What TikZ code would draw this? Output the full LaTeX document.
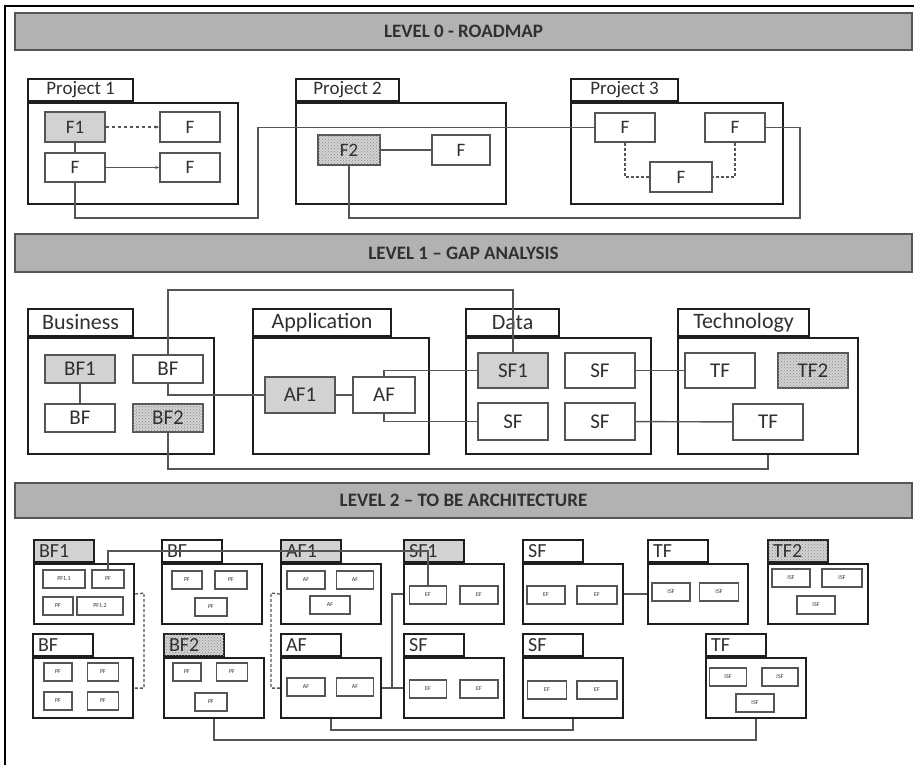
\documentclass[tikz,border=0pt]{standalone}
\usepackage{fontspec}
\setmainfont{Carlito}
\usetikzlibrary{arrows.meta, patterns}

\begin{document}
\begin{tikzpicture}[
    x=1pt, y=-1pt,
]

% ---------------------------------------------------------------- colours
\definecolor{c1}{HTML}{1E1E1E}   % package outlines
\definecolor{c2}{HTML}{555555}   % function boxes and links
\definecolor{c3}{HTML}{D2D2D2}   % first function of a block
\definecolor{c4}{HTML}{B2B2B2}   % the level bars
\definecolor{textcolor}{HTML}{303030}

\tikzset{
    bar/.style={rectangle, draw=c2, line width=2pt, fill=c4,
                minimum width=897pt, minimum height=36pt, inner sep=0pt,
                font=\fontsize{19}{19}\selectfont\bfseries, text=textcolor},
    body/.style={rectangle, draw=c1, line width=2.2pt, fill=white,
                 inner sep=0pt, anchor=north west},
    tab/.style={rectangle, draw=c1, line width=2.2pt, fill=white,
                inner sep=0pt, anchor=south west, text=textcolor},
    fbox/.style={rectangle, draw=c2, line width=1.5pt, fill=white,
                 inner sep=0pt, text=textcolor},
    mbox/.style={rectangle, draw=c2, line width=1.1pt, fill=white,
                 minimum height=18pt, inner sep=0pt, text=textcolor,
                 font=\fontsize{6}{6}\selectfont},
    blankfn/.style={},
    firstfn/.style={fill=c3},
    gapfn/.style={fill=c3, postaction={pattern=crosshatch dots,
                  pattern color=black!45}},
    link/.style={draw=c2, line width=1.4pt},
    dlink/.style={draw=c2, line width=1.3pt, dash pattern=on 3pt off 2pt},
}

% ================================================================
% GEOMETRY (1 unit = 1 px of the page, y grows downwards)
%   level bars       y = 31.5, 253, 500.5
%   level 0 blocks   tab top 80, body 102 .. 203
%   level 1 blocks   tab top 310, body 337 .. 453
%   level 2 blocks   tab top 541 / 635, body 60 high
% ================================================================

\useasboundingbox (0,0) rectangle (914,765);
\draw[black, line width=2.5pt] (5,765) -- (5,6) -- (914,6);

% ---------------------------------------------------------------- level bars
\foreach \n/\y/\h/\t in {%
    lev0/31.5/37/LEVEL 0 - ROADMAP,
    lev1/253/37/LEVEL 1 – GAP ANALYSIS,
    lev2/500.5/35/LEVEL 2 – TO BE ARCHITECTURE%
} {
    \node[bar, minimum height=\h pt] (\n) at (463.5, \y) {\t};
}

% ---------------------------------------------------------------- level 0
% name / left / width / tab width / label
\foreach \n/\x/\w/\tw/\t in {%
    p1/27/210/105/Project 1,
    p2/295/210/103/Project 2,
    p3/570/212/107/Project 3%
} {
    \node[body, minimum width=\w pt, minimum height=101pt] (\n) at (\x, 102) {};
    \node[tab, minimum width=\tw pt, minimum height=22pt,
          font=\fontsize{19}{19}\selectfont] (\n-tab) at (\n.north west) {\t};
}

% name / x / y / width / height / look / label
\foreach \n/\x/\y/\w/\h/\s/\t in {%
    f11/75/127/60/30/firstfn/F1,
    f12/190/127/60/30/blankfn/F,
    f13/75/167.5/60/29/blankfn/F,
    f14/190/167.5/60/29/blankfn/F,
    f21/349/150/62/30/gapfn/F2,
    f22/461/150/58/30/blankfn/F,
    f31/625/127.5/60/29/blankfn/F,
    f32/735/127.5/60/29/blankfn/F,
    f33/681/177/62/30/blankfn/F%
} {
    \node[fbox, \s, minimum width=\w pt, minimum height=\h pt,
          font=\fontsize{19}{19}\selectfont] (\n) at (\x, \y) {\t};
}

\draw[link, dashed, -{Stealth[length=4pt]}] (f11) -- (f12);
\draw[link, -{Stealth[length=4pt]}] (f13) -- (f14);
\draw[link] (f11) -- (f13);
\draw[link] (f21) -- (f22);
\coordinate (r1) at (258, 218);
\draw[link] (f13.south) |- (r1) |- (f31.west);
\coordinate (r2) at (800, 218);
\draw[link] (f21.south) |- (r2) |- (f32.east);
\draw[dlink] (f31.south) |- (f33.west);
\draw[dlink] (f32.south) |- (f33.east);

% ---------------------------------------------------------------- level 1
\foreach \n/\x/\w/\tw/\t in {%
    bus/27/186/105/Business,
    app/252/176/138/Application,
    dat/465/185/93/Data,
    tec/677/180/131/Technology%
} {
    \node[body, minimum width=\w pt, minimum height=116pt] (\n) at (\x, 337) {};
    \node[tab, minimum width=\tw pt, minimum height=27pt,
          font=\fontsize{22}{22}\selectfont] (\n-tab) at (\n.north west) {\t};
}

\foreach \n/\x/\y/\w/\h/\s/\t in {%
    bf1/80/369/70/28/firstfn/BF1,
    bf2/168/369/70/28/blankfn/BF,
    bf3/80/418/70/28/blankfn/BF,
    bf4/168/418/70/28/gapfn/BF2,
    af1/300/395/70/36/firstfn/AF1,
    af2/384/395/62/36/blankfn/AF,
    sf1/513/370.5/70/35/firstfn/SF1,
    sf2/600/370.5/70/35/blankfn/SF,
    sf3/513/421.5/70/37/blankfn/SF,
    sf4/600/421.5/70/37/blankfn/SF,
    tf1/720/370.5/70/35/blankfn/TF,
    tf2/813/370.5/70/35/gapfn/TF2,
    tf3/768/422/70/36/blankfn/TF%
} {
    \node[fbox, \s, minimum width=\w pt, minimum height=\h pt,
          font=\fontsize{21}{21}\selectfont] (\n) at (\x, \y) {\t};
}

\draw[link] (bf1) -- (bf3);
\coordinate (r3) at (168, 290);
\draw[link] (bf2.north) -- (r3) -| (sf1.north);
\draw[link] (bf2.south) |- (af1.west);
\draw[link] (af1) -- (af2);
\draw[link] (af2.north) |- (sf1.west);
\draw[link] (af2.south) |- (sf3.west);
\draw[link] (sf2) -- (tf1);
\draw[link] (sf4) -- (tf3);
\coordinate (r4) at (168, 469);
\draw[link] (bf4.south) -- (r4) -| (tec.south);

% ---------------------------------------------------------------- level 2
% name / left / tab top / label / tab look
\foreach \n/\x/\y/\t/\s in {%
    b1/33/541/BF1/firstfn,
    b2/161/541/BF/blankfn,
    a1/280/541/AF1/firstfn,
    s1/403/541/SF1/firstfn,
    s2/522/541/SF/blankfn,
    t1/647/541/TF/blankfn,
    t2/767/541/TF2/gapfn,
    b3/32/635/BF/blankfn,
    b4/163/635/BF2/gapfn,
    a2/280/635/AF/blankfn,
    s3/403/635/SF/blankfn,
    s4/522/635/SF/blankfn,
    t3/705/635/TF/blankfn%
} {
    \node[body, minimum width=100pt, minimum height=60pt] (\n) at (\x, \y+22) {};
    \node[tab, \s, minimum width=60pt, minimum height=22pt, text width=50pt,
          inner xsep=5pt, align=left, font=\fontsize{20}{20}\selectfont]
        (\n-tab) at (\n.north west) {\t};
}

% name / x / y / width / label
\foreach \n/\x/\y/\w/\t in {%
    b1m1/64/579/42/PF1.1, b1m2/108/579/32/PF,
    b1m3/58/606/30/PF, b1m4/100/606/46/PF1.2,
    b2m1/187/580/30/PF, b2m2/231/580/32/PF, b2m3/211/607/32/PF,
    a1m1/306/580/38/AF, a1m2/355/580/37/AF, a1m3/330/605/40/AF,
    s1m1/428/595/37/EF, s1m2/479/595/38/EF,
    s2m1/546/595/38/EF, s2m2/597/595/40/EF,
    t1m1/671/592/38/ISF, t1m2/719/592/39/ISF,
    t2m1/791/578/38/ISF, t2m2/842/578/40/ISF, t2m3/816/605/38/ISF,
    b3m1/58/672/28/PF, b3m2/103/672/31/PF,
    b3m3/58/701/28/PF, b3m4/103/701/31/PF,
    b4m1/187/672/28/PF, b4m2/232/672/31/PF, b4m3/211/702/32/PF,
    a2m1/306/687/38/AF, a2m2/355/687/37/AF,
    s3m1/428/689/37/EF, s3m2/479/689/38/EF,
    s4m1/547/690/39/EF, s4m2/597/690/40/EF,
    t3m1/728/677/37/ISF, t3m2/780/677/36/ISF, t3m3/755/703/38/ISF%
} {
    \node[mbox, minimum width=\w pt] (\n) at (\x, \y) {\t};
}

\coordinate (r5) at (300, 551);
\draw[link] (b1m2.north) |- (r5) -| (s1m1.north);
\coordinate (r6) at (144, 593);
\draw[dlink] (b1.east) -- (r6) |- (b3.east);
\coordinate (r7) at (271, 593);
\draw[dlink] (a1.west) -- (r7) |- (a2.west);
\draw[link] (a2) -- (s3);
\coordinate (r8) at (392, 687);
\draw[link] (r8) |- (s1.west);
\draw[link] (s2) -- (t1);
\coordinate (r9) at (450, 730);
\draw[link] (a2.south) |- (r9) -| (s4.south);
\coordinate (r10) at (450, 740);
\draw[link] (b4.south) |- (r10) -| (t3.south);

\end{tikzpicture}
\end{document}
